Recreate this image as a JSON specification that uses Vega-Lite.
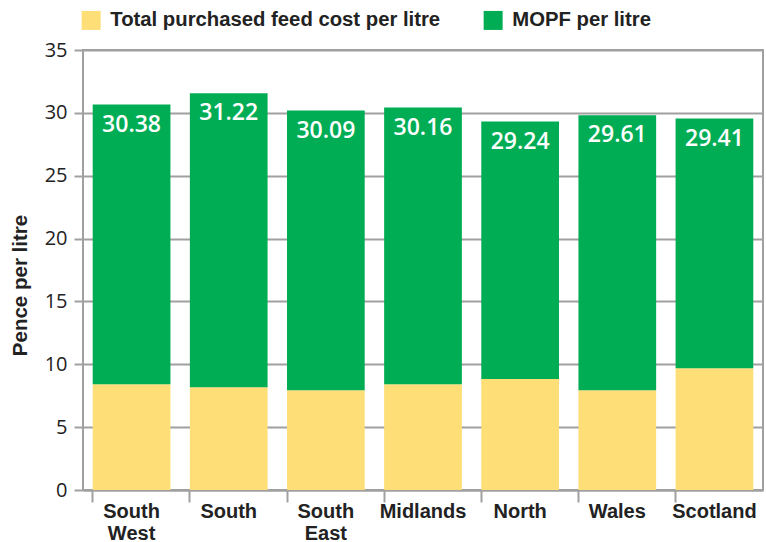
{
  "$schema": "https://vega.github.io/schema/vega-lite/v6.json",
  "width": 680,
  "height": 440,
  "autosize": "none",
  "padding": {"left": 83, "top": 50, "right": 3, "bottom": 52},
  "background": "white",
  "config": {
    "view": {"stroke": "#a0a0a0", "strokeWidth": 2},
    "axis": {"gridColor": "#a0a0a0", "gridWidth": 2, "domainColor": "#a0a0a0", "domainWidth": 2, "tickColor": "#a0a0a0", "tickWidth": 2}
  },
  "datasets": {
    "bars": [
      {"region": "South West", "component": "Total purchased feed cost per litre", "value": 8.42},
      {"region": "South West", "component": "MOPF per litre", "value": 22.24},
      {"region": "South", "component": "Total purchased feed cost per litre", "value": 8.18},
      {"region": "South", "component": "MOPF per litre", "value": 23.38},
      {"region": "South East", "component": "Total purchased feed cost per litre", "value": 7.94},
      {"region": "South East", "component": "MOPF per litre", "value": 22.24},
      {"region": "Midlands", "component": "Total purchased feed cost per litre", "value": 8.42},
      {"region": "Midlands", "component": "MOPF per litre", "value": 22.0},
      {"region": "North", "component": "Total purchased feed cost per litre", "value": 8.82},
      {"region": "North", "component": "MOPF per litre", "value": 20.49},
      {"region": "Wales", "component": "Total purchased feed cost per litre", "value": 7.94},
      {"region": "Wales", "component": "MOPF per litre", "value": 21.87},
      {"region": "Scotland", "component": "Total purchased feed cost per litre", "value": 9.69},
      {"region": "Scotland", "component": "MOPF per litre", "value": 19.86}
    ],
    "totals": [
      {"region": "South West", "top": 30.66, "label": "30.38"},
      {"region": "South", "top": 31.56, "label": "31.22"},
      {"region": "South East", "top": 30.18, "label": "30.09"},
      {"region": "Midlands", "top": 30.42, "label": "30.16"},
      {"region": "North", "top": 29.31, "label": "29.24"},
      {"region": "Wales", "top": 29.81, "label": "29.61"},
      {"region": "Scotland", "top": 29.55, "label": "29.41"}
    ]
  },
  "layer": [
    {
      "data": {"name": "bars"},
      "mark": {"type": "bar"},
      "encoding": {
        "x": {
          "field": "region", "type": "nominal", "sort": null,
          "scale": {"paddingInner": 0.2, "paddingOuter": 0.1},
          "axis": {
            "title": null, "labelAngle": 0, "bandPosition": 0, "tickSize": 12,
            "labelPadding": -1, "labelFont": "Liberation Sans", "labelFontWeight": "bold",
            "labelFontSize": 20, "labelColor": "#222", "labelLineHeight": 22,
            "labelExpr": "split(datum.label, ' ')", "labelBaseline": "top"
          }
        },
        "y": {
          "field": "value", "type": "quantitative", "stack": "zero",
          "scale": {"domain": [0, 35]},
          "axis": {
            "title": "Pence per litre", "values": [0, 5, 10, 15, 20, 25, 30, 35],
            "tickSize": 9, "labelPadding": 7, "labelFont": "Open Sans", "labelFontSize": 20,
            "labelFontWeight": 500, "labelColor": "#222", "domain": false,
            "titleFont": "Liberation Sans", "titleFontSize": 20.5, "titleFontWeight": "bold",
            "titleColor": "#222", "titleX": -63, "titleY": 235, "titleBaseline": "middle", "titleAlign": "center"
          }
        },
        "color": {
          "field": "component", "type": "nominal",
          "scale": {"domain": ["Total purchased feed cost per litre", "MOPF per litre"], "range": ["#FEDE77", "#00AD55"]},
          "legend": {
            "title": null, "orient": "none", "direction": "horizontal", "legendX": -2, "legendY": -40,
            "symbolType": "square", "symbolSize": 361, "symbolStrokeWidth": 0, "symbolOpacity": 1,
            "labelFont": "Liberation Sans", "labelFontSize": 20.3, "labelFontWeight": "bold", "labelColor": "#222",
            "labelOffset": 9, "columnPadding": 42, "labelLimit": 500, "padding": 0
          }
        },
        "order": {"field": "component", "sort": "descending"}
      }
    },
    {
      "data": {"name": "totals"},
      "mark": {"type": "text", "color": "white", "font": "Open Sans", "fontSize": 23, "fontWeight": 600, "baseline": "middle", "dy": 20},
      "encoding": {
        "x": {"field": "region", "type": "nominal", "sort": null},
        "y": {"field": "top", "type": "quantitative"},
        "text": {"field": "label", "type": "nominal"}
      }
    }
  ]
}
